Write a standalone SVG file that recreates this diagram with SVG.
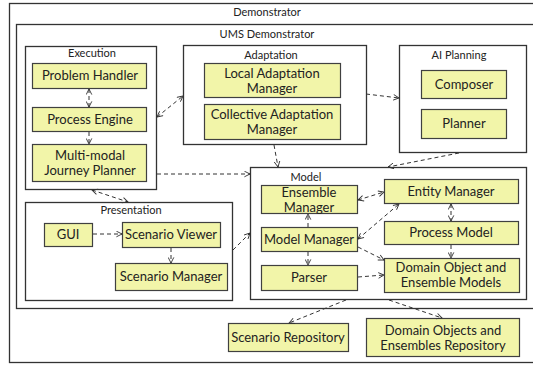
<svg xmlns="http://www.w3.org/2000/svg" width="533" height="365" viewBox="0 0 533 365">
<defs>
<marker id="ah" viewBox="0 0 10 10" refX="9" refY="5" markerWidth="7" markerHeight="7" orient="auto-start-reverse" markerUnits="userSpaceOnUse">
<polyline points="1,1 9,5 1,9" fill="none" stroke="#333" stroke-width="1.3"/>
</marker>
</defs>
<style>
.cont{fill:#fff;stroke:#333;stroke-width:1.3}
.box{fill:#f2f5a9;stroke:#404040;stroke-width:1.2}
.t{font-family:Lato,"Open Sans","Liberation Sans",sans-serif;font-size:13px;fill:#222;text-anchor:middle}
.ct{font-family:Lato,"Open Sans","Liberation Sans",sans-serif;font-size:11px;fill:#222;text-anchor:middle}
.c{fill:none;stroke:#333;stroke-width:1;stroke-dasharray:4,3}
</style>
<rect width="533" height="365" fill="#fff"/>
<g id="demonstrator">
<rect class="cont" x="9.5" y="3.5" width="530" height="359"/>
<text class="ct" x="267" y="16">Demonstrator</text>
</g>
<g id="ums">
<rect class="cont" x="16.5" y="24.5" width="523" height="284"/>
<text class="ct" x="267" y="38">UMS Demonstrator</text>
</g>
<g id="execution">
<rect class="cont" x="25.5" y="46.5" width="131" height="143"/>
<text class="ct" x="92" y="57">Execution</text>
</g>
<g id="problem-handler"><rect class="box" x="32.5" y="63.5" width="114" height="25"/><text class="t" x="90" y="80">Problem Handler</text></g>
<g id="process-engine"><rect class="box" x="32.5" y="107.5" width="114" height="24"/><text class="t" x="90" y="123.5">Process Engine</text></g>
<g id="journey-planner"><rect class="box" x="32.5" y="144.5" width="114" height="37"/><text class="t" x="90" y="160">Multi-modal</text><text class="t" x="90" y="175">Journey Planner</text></g>
<g id="adaptation">
<rect class="cont" x="183.5" y="45.5" width="183" height="99"/>
<text class="ct" x="271" y="59">Adaptation</text>
</g>
<g id="local-adaptation"><rect class="box" x="204.5" y="63.5" width="136" height="34"/><text class="t" x="272" y="77.5">Local Adaptation</text><text class="t" x="272" y="92.5">Manager</text></g>
<g id="collective-adaptation"><rect class="box" x="204.5" y="104.5" width="136" height="35"/><text class="t" x="272" y="118.5">Collective Adaptation</text><text class="t" x="272" y="133.5">Manager</text></g>
<g id="ai-planning">
<rect class="cont" x="399.5" y="45.5" width="127" height="107"/>
<text class="ct" x="459" y="59">AI Planning</text>
</g>
<g id="composer"><rect class="box" x="421.5" y="70.5" width="85" height="28"/><text class="t" x="464" y="88.5">Composer</text></g>
<g id="planner"><rect class="box" x="421.5" y="109.5" width="85" height="29"/><text class="t" x="464" y="128">Planner</text></g>
<g id="presentation">
<rect class="cont" x="25.5" y="202.5" width="207" height="98"/>
<text class="ct" x="131" y="214">Presentation</text>
</g>
<g id="gui"><rect class="box" x="44.5" y="223.5" width="48" height="23"/><text class="t" x="68" y="239">GUI</text></g>
<g id="scenario-viewer"><rect class="box" x="122.5" y="222.5" width="98" height="25"/><text class="t" x="171" y="239">Scenario Viewer</text></g>
<g id="scenario-manager"><rect class="box" x="115.5" y="263.5" width="112" height="27"/><text class="t" x="171" y="281">Scenario Manager</text></g>
<g id="model">
<rect class="cont" x="250.5" y="167.5" width="276" height="132"/>
<text class="ct" x="306" y="181">Model</text>
</g>
<g id="ensemble-manager"><rect class="box" x="261.5" y="185.5" width="96" height="28"/><text class="t" x="309" y="196.5">Ensemble</text><text class="t" x="309" y="211.5">Manager</text></g>
<g id="model-manager"><rect class="box" x="261.5" y="227.5" width="96" height="24"/><text class="t" x="309" y="243.5">Model Manager</text></g>
<g id="parser"><rect class="box" x="261.5" y="265.5" width="96" height="25"/><text class="t" x="309" y="282">Parser</text></g>
<g id="entity-manager"><rect class="box" x="384.5" y="179.5" width="134" height="24"/><text class="t" x="451" y="195.5">Entity Manager</text></g>
<g id="process-model"><rect class="box" x="384.5" y="221.5" width="134" height="23"/><text class="t" x="451" y="237">Process Model</text></g>
<g id="domain-models"><rect class="box" x="384.5" y="258.5" width="135" height="34"/><text class="t" x="451" y="271.5">Domain Object and</text><text class="t" x="451" y="287">Ensemble Models</text></g>
<g id="scenario-repository"><rect class="box" x="228.5" y="323.5" width="120" height="28"/><text class="t" x="288" y="341.5">Scenario Repository</text></g>
<g id="domain-repository"><rect class="box" x="366.5" y="318.5" width="153" height="38"/><text class="t" x="443" y="335">Domain Objects and</text><text class="t" x="443" y="350">Ensembles Repository</text></g>
<g id="connectors">
<line class="c" x1="89" y1="89" x2="89" y2="107" marker-start="url(#ah)" marker-end="url(#ah)"/>
<line class="c" x1="89" y1="132" x2="89" y2="144" marker-end="url(#ah)"/>
<line class="c" x1="157" y1="117" x2="183" y2="96" marker-start="url(#ah)" marker-end="url(#ah)"/>
<line class="c" x1="157" y1="174" x2="250" y2="174" marker-end="url(#ah)"/>
<line class="c" x1="366" y1="94" x2="399" y2="98" marker-end="url(#ah)"/>
<line class="c" x1="274" y1="145" x2="278" y2="167" marker-end="url(#ah)"/>
<line class="c" x1="459" y1="153" x2="388" y2="167" marker-end="url(#ah)"/>
<line class="c" x1="92" y1="190" x2="128" y2="202" marker-start="url(#ah)" marker-end="url(#ah)"/>
<line class="c" x1="93" y1="234" x2="122" y2="234" marker-end="url(#ah)"/>
<line class="c" x1="171" y1="248" x2="171" y2="263" marker-end="url(#ah)"/>
<line class="c" x1="233" y1="250" x2="250" y2="233" marker-end="url(#ah)"/>
<line class="c" x1="308" y1="227" x2="308" y2="214" marker-end="url(#ah)"/>
<line class="c" x1="308" y1="252" x2="308" y2="265" marker-end="url(#ah)"/>
<line class="c" x1="358" y1="200" x2="384" y2="192" marker-start="url(#ah)" marker-end="url(#ah)"/>
<line class="c" x1="358" y1="239" x2="399" y2="204" marker-start="url(#ah)" marker-end="url(#ah)"/>
<line class="c" x1="451" y1="204" x2="451" y2="221" marker-start="url(#ah)" marker-end="url(#ah)"/>
<line class="c" x1="451" y1="245" x2="451" y2="258" marker-end="url(#ah)"/>
<line class="c" x1="358" y1="247" x2="384" y2="260" marker-end="url(#ah)"/>
<line class="c" x1="358" y1="277" x2="384" y2="275" marker-end="url(#ah)"/>
<line class="c" x1="346" y1="300" x2="289" y2="323" marker-end="url(#ah)"/>
<line class="c" x1="389" y1="300" x2="442" y2="318" marker-end="url(#ah)"/>
</g>
</svg>
